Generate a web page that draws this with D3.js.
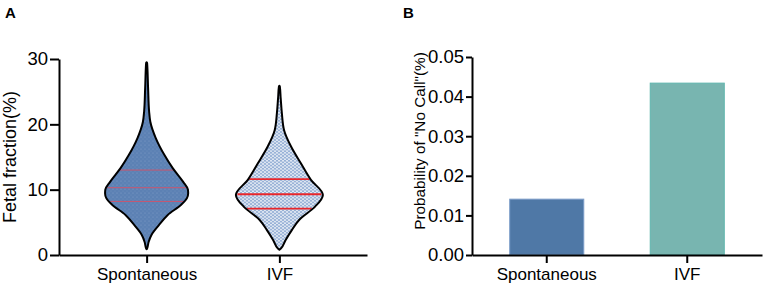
<!DOCTYPE html>
<html>
<head>
<meta charset="utf-8">
<script src="https://cdn.jsdelivr.net/npm/d3@7"></script>
<style>
  html, body { margin: 0; padding: 0; background: #fff; }
  svg { display: block; font-family: "Liberation Sans", Arial, sans-serif; }
</style>
</head>
<body>
<svg id="chart" width="765" height="289"></svg>
<script>
// ---------- DATA ----------
const categories = ["Spontaneous", "IVF"];

// Panel A: violin profiles (fetal fraction % level -> relative density)
const spontaneousLevels  = [0.9, 1.0, 2.0, 3.1, 4.6, 6.1, 7.7, 8.7, 9.4, 10.0, 11.2, 13.3, 15.3, 17.9, 20.4, 22.0, 25.5, 29.4, 29.5];
const spontaneousDensity = [0, 0.011, 0.046, 0.114, 0.286, 0.48, 0.794, 0.927, 0.955, 0.95, 0.84, 0.60, 0.41, 0.21, 0.085, 0.057, 0.034, 0.011, 0];
const ivfLevels  = [0.8, 1.0, 2.3, 3.8, 5.4, 7.4, 9.2, 11.5, 14.0, 16.6, 19.1, 21.7, 24.0, 25.8, 25.9];
const ivfDensity = [0, 0.034, 0.144, 0.286, 0.458, 0.82, 1.0, 0.725, 0.497, 0.268, 0.108, 0.057, 0.03, 0.01, 0];
// quartiles [Q1, median, Q3]
const spontaneousQuartiles = [8.2, 10.3, 13.0];
const ivfQuartiles = [7.1, 9.3, 11.6];
const fetalTicks = [0, 10, 20, 30];

// Panel B: probability of "No Call" (%)
const noCallValues = [0.0141, 0.0434];
const noCallTicks = [0, 0.01, 0.02, 0.03, 0.04, 0.05];

// ---------- DRAW ----------
const svg = d3.select("#chart");
const defs = svg.append("defs");

// textures imitating the dense dot clouds
const pS = defs.append("pattern").attr("id", "dotsS").attr("patternUnits", "userSpaceOnUse")
  .attr("width", 4).attr("height", 4);
pS.append("rect").attr("width", 4).attr("height", 4).attr("fill", "#5c81b4");
pS.append("circle").attr("cx", 1).attr("cy", 1).attr("r", 0.6).attr("fill", "#809ec9");
pS.append("circle").attr("cx", 3).attr("cy", 3).attr("r", 0.5).attr("fill", "#7092c0");

const pI = defs.append("pattern").attr("id", "dotsI").attr("patternUnits", "userSpaceOnUse")
  .attr("width", 4).attr("height", 3.2);
pI.append("rect").attr("width", 4).attr("height", 3.2).attr("fill", "#e1e8f3");
pI.append("circle").attr("cx", 1).attr("cy", 0.8).attr("r", 1.05).attr("fill", "#94afd5");
pI.append("circle").attr("cx", 3).attr("cy", 2.4).attr("r", 1.05).attr("fill", "#94afd5");

// ===== Panel A =====
const yA = d3.scaleLinear().domain([0, 30]).range([255, 59]);
const xA = d3.scalePoint().domain(categories).range([59, 367]).padding(0.66);
const halfMax = 43.5;

const violins = [
  { name: categories[0], levels: spontaneousLevels, dens: spontaneousDensity, q: spontaneousQuartiles,
    fill: "url(#dotsS)", qColor: "#c9566f", qWidth: 1 },
  { name: categories[1], levels: ivfLevels, dens: ivfDensity, q: ivfQuartiles,
    fill: "url(#dotsI)", qColor: "#e8262b", qWidth: 1.8 }
];

const gA = svg.append("g");
violins.forEach(v => {
  const cx = xA(v.name);
  const pts = v.levels.map((l, i) => ({ l, d: v.dens[i] }));
  const area = d3.area()
    .y(p => yA(p.l))
    .x0(p => cx - p.d * halfMax)
    .x1(p => cx + p.d * halfMax)
    .curve(d3.curveMonotoneY);
  const interp = val => {
    for (let i = 1; i < v.levels.length; i++) {
      if (val <= v.levels[i]) {
        const t = (val - v.levels[i - 1]) / (v.levels[i] - v.levels[i - 1]);
        return v.dens[i - 1] + t * (v.dens[i] - v.dens[i - 1]);
      }
    }
    return 0;
  };
  gA.append("path").attr("d", area(pts)).attr("fill", v.fill).attr("stroke", "none");
  v.q.forEach(qv => {
    const hw = interp(qv) * halfMax - 1;
    gA.append("line")
      .attr("x1", cx - hw).attr("x2", cx + hw)
      .attr("y1", yA(qv)).attr("y2", yA(qv))
      .attr("stroke", v.qColor).attr("stroke-width", v.qWidth);
  });
  gA.append("path").attr("d", area(pts)).attr("fill", "none")
    .attr("stroke", "#000").attr("stroke-width", 2).attr("stroke-linejoin", "round");
});

// axes A
const axAy = svg.append("g").attr("transform", "translate(59,0)")
  .call(d3.axisLeft(yA).tickValues(fetalTicks).tickSize(9).tickSizeOuter(0).tickPadding(2));
const axAx = svg.append("g").attr("transform", "translate(0,255)")
  .call(d3.axisBottom(xA).tickSize(8).tickSizeOuter(0).tickPadding(5));

// ===== Panel B =====
const yB = d3.scaleLinear().domain([0, 0.05]).range([255, 57]);
const xB = d3.scaleBand().domain(categories).range([472, 762]).paddingInner(0.473).paddingOuter(0.2685);
const barFill = ["#4f78a6", "#78b5b0"];
const barStroke = ["#7a9cc8", "#5fb5ad"];

svg.append("g").selectAll("rect").data(categories).join("rect")
  .attr("x", d => xB(d))
  .attr("width", xB.bandwidth())
  .attr("y", (d, i) => yB(noCallValues[i]))
  .attr("height", (d, i) => yB(0) - yB(noCallValues[i]))
  .attr("fill", (d, i) => barFill[i])
  .attr("stroke", (d, i) => barStroke[i])
  .attr("stroke-width", 1);

const axBy = svg.append("g").attr("transform", "translate(472,0)")
  .call(d3.axisLeft(yB).tickValues(noCallTicks).tickFormat(d3.format(".2f")).tickSize(6).tickSizeOuter(0).tickPadding(2));
const axBx = svg.append("g").attr("transform", "translate(0,255)")
  .call(d3.axisBottom(xB).tickSize(8).tickSizeOuter(0).tickPadding(5));

// axis styling
[axAy, axAx, axBy, axBx].forEach(g => {
  g.selectAll("path.domain").attr("stroke", "#000").attr("stroke-width", 2);
  g.selectAll(".tick line").attr("stroke", "#000").attr("stroke-width", 2);
  g.selectAll(".tick text").attr("fill", "#000").attr("font-family", "Liberation Sans, Arial, sans-serif");
});
[axAy, axBy].forEach(g => g.selectAll(".tick text").attr("font-size", 18.5));
[axAx, axBx].forEach(g => g.selectAll(".tick text").attr("font-size", 17));

// titles
svg.append("text").attr("transform", "translate(16,157) rotate(-90)")
  .attr("text-anchor", "middle").attr("font-size", 18).text("Fetal fraction(%)");
svg.append("text").attr("transform", "translate(425,141) rotate(-90)")
  .attr("text-anchor", "middle").attr("font-size", 15.3).text("Probability of \"No Call\"(%)");

// panel letters
svg.append("text").attr("x", 5).attr("y", 18).attr("font-size", 15).attr("font-weight", "bold").text("A");
svg.append("text").attr("x", 403).attr("y", 17.5).attr("font-size", 15).attr("font-weight", "bold").text("B");
</script>
</body>
</html>
